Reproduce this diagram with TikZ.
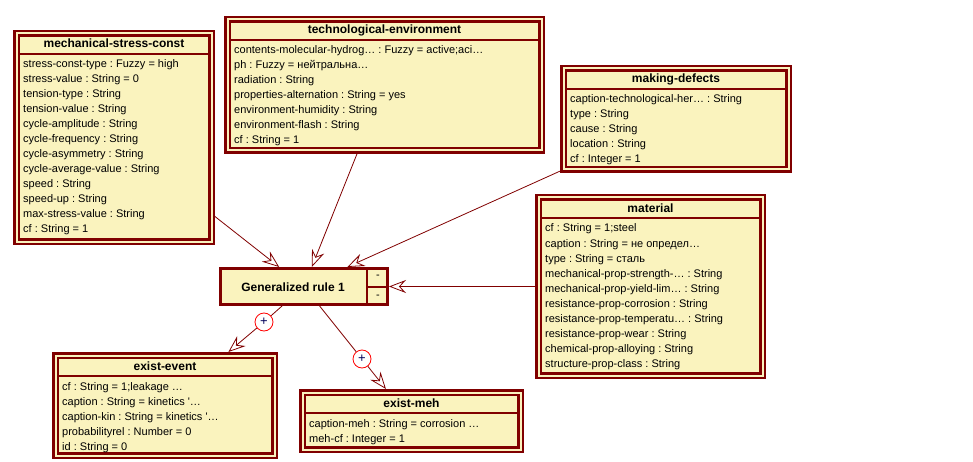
\documentclass[tikz,border=0pt]{standalone}
\usepackage{fontspec}
\setmainfont{Liberation Sans}[Ligatures=TeXOff]
\usetikzlibrary{arrows.meta}
\definecolor{umlred}{RGB}{128,0,0}
\definecolor{umlfill}{RGB}{250,243,190}
\definecolor{plusblue}{RGB}{0,0,90}
\frenchspacing
\tikzset{
  classbox/.style={rectangle, draw=umlred, fill=umlfill, line width=2.5pt, double=umlfill, double distance=2pt, inner sep=0pt, outer sep=3.5pt},
  headline/.style={draw=umlred, line width=2pt},
  classtitle/.style={anchor=base, inner sep=0pt, font=\fontsize{12}{14}\selectfont\bfseries},
  classrow/.style={anchor=base west, inner sep=0pt, font=\fontsize{11}{15}\selectfont\frenchspacing},
  rulebox/.style={rectangle, draw=umlred, fill=umlfill, line width=2.6pt, outer sep=1.3pt, inner sep=0pt},
  ruleline/.style={draw=umlred, line width=2.4pt},
  ruletitle/.style={anchor=base, inner sep=0pt, font=\fontsize{12}{14}\selectfont\bfseries},
  rulemark/.style={inner sep=0pt, font=\fontsize{11}{13}\selectfont},
  link/.style={draw=umlred, line width=0.8pt},
  assoc/.style={link, -{Stealth[open, length=17pt, width=13pt, inset=6pt]}},
  plusmark/.style={circle, draw=red, fill=white, line width=0.8pt, minimum size=18pt, inner sep=0pt, font=\fontsize{13}{13}\selectfont, text=plusblue},
}
% #1 name, #2 x1, #3 y1, #4 x2, #5 y2, #6 title, #7 rows
\newcommand{\umlclass}[7]{%
  \node[classbox, minimum width={#4-#2-7}, minimum height={#5-#3-7}] (#1) at ({(#2+#4)/2},{(#3+#5)/2}) {};
  \draw[headline] ({#2+5},{#3+24}) -- ({#4-5},{#3+24});
  \node[classtitle] (#1-title) at ({(#2+#4)/2},{#3+18}) {#6};
  \foreach \rowtext [count=\rowi] in {#7}
    \node[classrow] (#1-row\rowi) at ({#2+10},{#3+38+15*(\rowi-1)}) {\rowtext};
}
\begin{document}
\begin{tikzpicture}[x=1pt,y=-1pt]
\useasboundingbox (0,0) rectangle (973,462);

\umlclass{mech}{13}{30}{215}{245}{mechanical-stress-const}{%
stress-const-type : Fuzzy = high,
stress-value : String = 0,
tension-type : String,
tension-value : String,
cycle-amplitude : String,
cycle-frequency : String,
cycle-asymmetry : String,
cycle-average-value : String,
speed : String,
speed-up : String,
max-stress-value : String,
cf : String = 1}

\umlclass{tech}{224}{16}{545}{154}{technological-environment}{%
contents-molecular-hydrog… : Fuzzy = active;aci…,
ph : Fuzzy = нейтральна…,
radiation : String,
properties-alternation : String = yes,
environment-humidity : String,
environment-flash : String,
cf : String = 1}

\umlclass{making}{560}{65}{792}{173}{making-defects}{%
caption-technological-her… : String,
type : String,
cause : String,
location : String,
cf : Integer = 1}

\umlclass{material}{535}{194}{766}{379}{material}{%
cf : String = 1;steel,
caption : String = не определ…,
type : String = сталь,
mechanical-prop-strength-… : String,
mechanical-prop-yield-lim… : String,
resistance-prop-corrosion : String,
resistance-prop-temperatu… : String,
resistance-prop-wear : String,
chemical-prop-alloying : String,
structure-prop-class : String}

\umlclass{event}{52}{352}{278}{459}{exist-event}{%
cf : String = 1;leakage …,
caption : String = kinetics '…,
caption-kin : String = kinetics '…,
probabilityrel : Number = 0,
id : String = 0}

\umlclass{meh}{299}{389}{524}{453}{exist-meh}{%
caption-meh : String = corrosion …,
meh-cf : Integer = 1}

% rule
\node[rulebox, minimum width={170-2.6}, minimum height={39-2.6}] (rule) at (304,286.5) {};
\draw[ruleline] (367,267) -- (367,306);
\draw[ruleline] (367,287) -- (389,287);
\node[ruletitle] (rule-title) at (293,291) {Generalized rule 1};
\node[rulemark] (rule-m1) at (378,277) {-};
\node[rulemark] (rule-m2) at (378,297) {-};

% plus markers
\node[plusmark] (plus1) at (264,322) {+};
\node[plusmark] (plus2) at (362,359) {+};

% connectors
\draw[assoc] (mech) -- (rule);
\draw[assoc] (tech) -- (rule);
\draw[assoc] (making) -- (rule);
\draw[assoc] (material) -- (rule);
\draw[link] (rule) -- (plus1);
\draw[assoc] (plus1) -- (event);
\draw[link] (rule) -- (plus2);
\draw[assoc] (plus2) -- (meh);
\end{tikzpicture}
\end{document}
